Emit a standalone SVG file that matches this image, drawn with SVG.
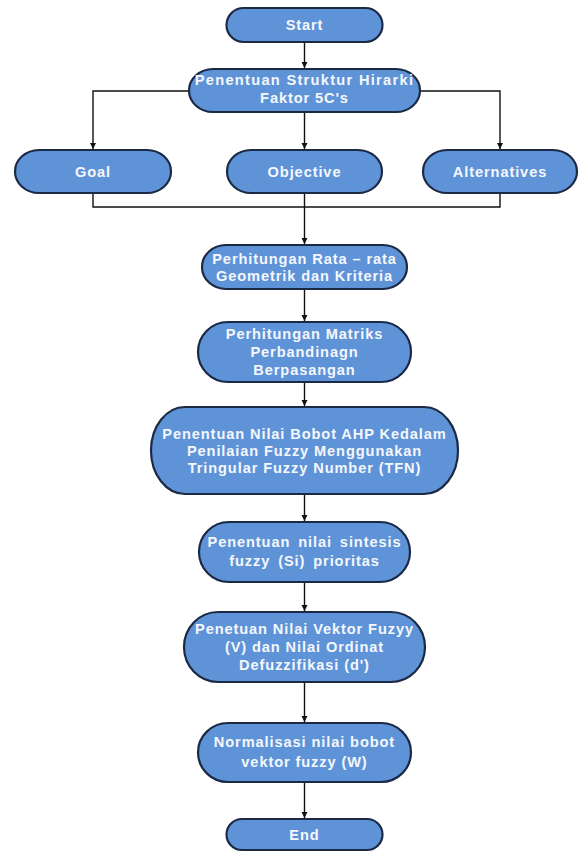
<svg xmlns="http://www.w3.org/2000/svg" width="579" height="852" viewBox="0 0 579 852">
  <style>
    .box { fill: #5f93d8; stroke: #1b2945; stroke-width: 2.2; }
    .lbl { font-family: "Liberation Sans", Arial, sans-serif; font-size: 14.6px; font-weight: bold; fill: #f4f7fc; text-anchor: middle; letter-spacing: 0.9px; }
    .wire { fill: none; stroke: #111; stroke-width: 1.4; }
  </style>
  <defs>
    <marker id="arrow" markerWidth="7" markerHeight="7" refX="6" refY="3" orient="auto" markerUnits="userSpaceOnUse">
      <path d="M0,0 L6,3 L0,6 z" fill="#111"/>
    </marker>
  </defs>
  <rect width="579" height="852" fill="#ffffff"/>

  <g id="connectors">
    <path class="wire" d="M304.5,42 V68" marker-end="url(#arrow)"/>
    <path class="wire" d="M189,91 H93 V149" marker-end="url(#arrow)"/>
    <path class="wire" d="M304.5,112 V149" marker-end="url(#arrow)"/>
    <path class="wire" d="M420,91 H500 V149" marker-end="url(#arrow)"/>
    <path class="wire" d="M93,193 V207 H500 V193"/>
    <path class="wire" d="M304.5,193 V244" marker-end="url(#arrow)"/>
    <path class="wire" d="M304.5,289 V321" marker-end="url(#arrow)"/>
    <path class="wire" d="M304.5,382 V406" marker-end="url(#arrow)"/>
    <path class="wire" d="M304.5,494 V521" marker-end="url(#arrow)"/>
    <path class="wire" d="M304.5,582 V611" marker-end="url(#arrow)"/>
    <path class="wire" d="M304.5,682 V722" marker-end="url(#arrow)"/>
    <path class="wire" d="M304.5,782 V818" marker-end="url(#arrow)"/>
  </g>

  <g id="start">
    <rect class="box" x="226.5" y="8" width="156" height="34" rx="17" ry="17"/>
    <text class="lbl" x="304.5" y="30">Start</text>
  </g>

  <g id="struktur-hirarki">
    <rect class="box" x="189" y="69" width="231" height="43" rx="24" ry="21.5"/>
    <text class="lbl" x="304.5" y="85" style="letter-spacing:1.3px">Penentuan Struktur Hirarki</text>
    <text class="lbl" x="304.5" y="103">Faktor 5C's</text>
  </g>

  <g id="goal">
    <rect class="box" x="15" y="150" width="156" height="43" rx="24" ry="21.5"/>
    <text class="lbl" x="93" y="176.5">Goal</text>
  </g>

  <g id="objective">
    <rect class="box" x="227" y="150" width="155" height="43" rx="24" ry="21.5"/>
    <text class="lbl" x="304.5" y="176.5">Objective</text>
  </g>

  <g id="alternatives">
    <rect class="box" x="423" y="150" width="154" height="43" rx="24" ry="21.5"/>
    <text class="lbl" x="500" y="176.5">Alternatives</text>
  </g>

  <g id="rata-rata">
    <rect class="box" x="202" y="245" width="205" height="44" rx="24" ry="22"/>
    <text class="lbl" x="304.5" y="263.5">Perhitungan Rata – rata</text>
    <text class="lbl" x="304.5" y="280.5">Geometrik dan Kriteria</text>
  </g>

  <g id="matriks">
    <rect class="box" x="198" y="322" width="213" height="60" rx="30" ry="30"/>
    <text class="lbl" x="304.5" y="339">Perhitungan Matriks</text>
    <text class="lbl" x="304.5" y="357">Perbandinagn</text>
    <text class="lbl" x="304.5" y="375">Berpasangan</text>
  </g>

  <g id="bobot-ahp">
    <rect class="box" x="151" y="407" width="307" height="87" rx="34" ry="43.5"/>
    <text class="lbl" x="304.5" y="438.5">Penentuan Nilai Bobot AHP Kedalam</text>
    <text class="lbl" x="304.5" y="455.5">Penilaian Fuzzy Menggunakan</text>
    <text class="lbl" x="304.5" y="472.5">Tringular Fuzzy Number (TFN)</text>
  </g>

  <g id="sintesis">
    <rect class="box" x="199" y="522" width="211" height="60" rx="30" ry="30"/>
    <text class="lbl" x="304.5" y="547" style="word-spacing:3px">Penentuan nilai sintesis</text>
    <text class="lbl" x="304.5" y="566" style="word-spacing:3px">fuzzy (Si) prioritas</text>
  </g>

  <g id="vektor">
    <rect class="box" x="184" y="612" width="241" height="70" rx="34" ry="35"/>
    <text class="lbl" x="304.5" y="634">Penetuan Nilai Vektor Fuzyy</text>
    <text class="lbl" x="304.5" y="652">(V) dan Nilai Ordinat</text>
    <text class="lbl" x="304.5" y="670">Defuzzifikasi (d')</text>
  </g>

  <g id="normalisasi">
    <rect class="box" x="198" y="723" width="213" height="59" rx="30" ry="29.5"/>
    <text class="lbl" x="304.5" y="747">Normalisasi nilai bobot</text>
    <text class="lbl" x="304.5" y="767">vektor fuzzy (W)</text>
  </g>

  <g id="end">
    <rect class="box" x="226.5" y="819" width="156" height="31" rx="15.5" ry="15.5"/>
    <text class="lbl" x="304.5" y="840">End</text>
  </g>
</svg>
